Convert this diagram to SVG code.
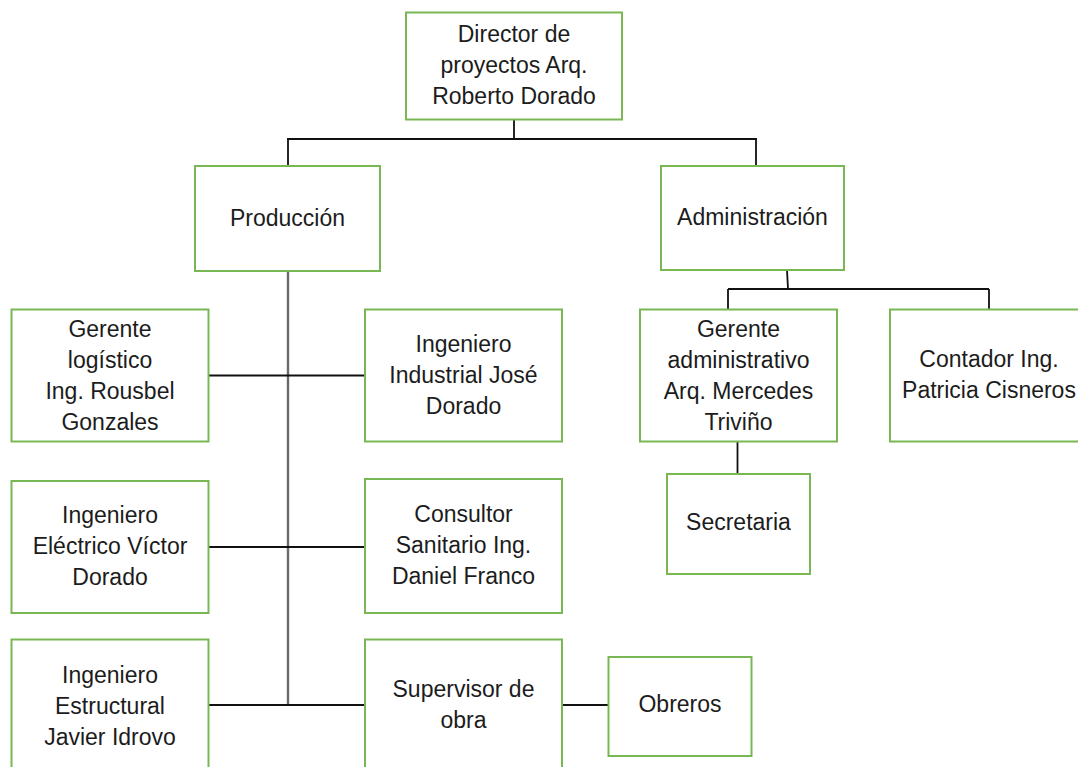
<svg xmlns="http://www.w3.org/2000/svg" width="1078" height="767" viewBox="0 0 1078 767">
<style>
.box{fill:#ffffff;stroke:#79b755;stroke-width:2}
.t{font-family:"Liberation Sans",Arial,sans-serif;font-size:23px;fill:#1c1c1c;text-anchor:middle}
.c{fill:none;stroke:#111111;stroke-width:1.8}
.g{fill:none;stroke:#6a6a6a;stroke-width:2.4}
</style>
<rect width="1078" height="767" fill="#ffffff"/>
<g id="connectors">
<path class="c" d="M514,119V139M287,139H757M288,139V166M756,139V166"/>
<path class="g" d="M288,271V705"/>
<path class="c" d="M208,375.5H365M208,547H365M208,705H365M562,705H608"/>
<path class="c" d="M787,270L788,289M728,289H989M728,289V309M989,289V309"/>
<path class="c" d="M737.5,442V474"/>
</g>
<g id="director">
<rect class="box" x="406" y="12.5" width="216" height="107"/>
<text class="t" x="514" y="42">Director de</text>
<text class="t" x="514" y="73">proyectos Arq.</text>
<text class="t" x="514" y="104">Roberto Dorado</text>
</g>
<g id="produccion">
<rect class="box" x="195" y="166" width="185" height="105"/>
<text class="t" x="287.5" y="226">Producción</text>
</g>
<g id="administracion">
<rect class="box" x="661" y="166" width="183" height="104"/>
<text class="t" x="752.5" y="225">Administración</text>
</g>
<g id="gerente-logistico">
<rect class="box" x="11.5" y="309.5" width="197" height="132"/>
<text class="t" x="110" y="337">Gerente</text>
<text class="t" x="110" y="368">logístico</text>
<text class="t" x="110" y="399">Ing. Rousbel</text>
<text class="t" x="110" y="430">Gonzales</text>
</g>
<g id="ingeniero-industrial">
<rect class="box" x="365" y="309.5" width="197" height="132"/>
<text class="t" x="463.5" y="352">Ingeniero</text>
<text class="t" x="463.5" y="383">Industrial José</text>
<text class="t" x="463.5" y="414">Dorado</text>
</g>
<g id="ingeniero-electrico">
<rect class="box" x="11.5" y="481" width="197" height="132"/>
<text class="t" x="110" y="523">Ingeniero</text>
<text class="t" x="110" y="554">Eléctrico Víctor</text>
<text class="t" x="110" y="585">Dorado</text>
</g>
<g id="consultor-sanitario">
<rect class="box" x="365" y="479" width="197" height="134"/>
<text class="t" x="463.5" y="522">Consultor</text>
<text class="t" x="463.5" y="553">Sanitario Ing.</text>
<text class="t" x="463.5" y="584">Daniel Franco</text>
</g>
<g id="ingeniero-estructural">
<rect class="box" x="11.5" y="639.5" width="197" height="134"/>
<text class="t" x="110" y="683">Ingeniero</text>
<text class="t" x="110" y="714">Estructural</text>
<text class="t" x="110" y="745">Javier Idrovo</text>
</g>
<g id="supervisor">
<rect class="box" x="365" y="639.5" width="197" height="134"/>
<text class="t" x="463.5" y="697">Supervisor de</text>
<text class="t" x="463.5" y="728">obra</text>
</g>
<g id="obreros">
<rect class="box" x="608.5" y="657" width="143" height="99"/>
<text class="t" x="680" y="712">Obreros</text>
</g>
<g id="gerente-administrativo">
<rect class="box" x="640" y="309.5" width="197" height="132"/>
<text class="t" x="738.5" y="337">Gerente</text>
<text class="t" x="738.5" y="368">administrativo</text>
<text class="t" x="738.5" y="399">Arq. Mercedes</text>
<text class="t" x="738.5" y="430">Triviño</text>
</g>
<g id="contador">
<rect class="box" x="890" y="309.5" width="198" height="132"/>
<text class="t" x="989" y="367">Contador Ing.</text>
<text class="t" x="989" y="398">Patricia Cisneros</text>
</g>
<g id="secretaria">
<rect class="box" x="667" y="474" width="143" height="100"/>
<text class="t" x="738.5" y="530">Secretaria</text>
</g>
</svg>
